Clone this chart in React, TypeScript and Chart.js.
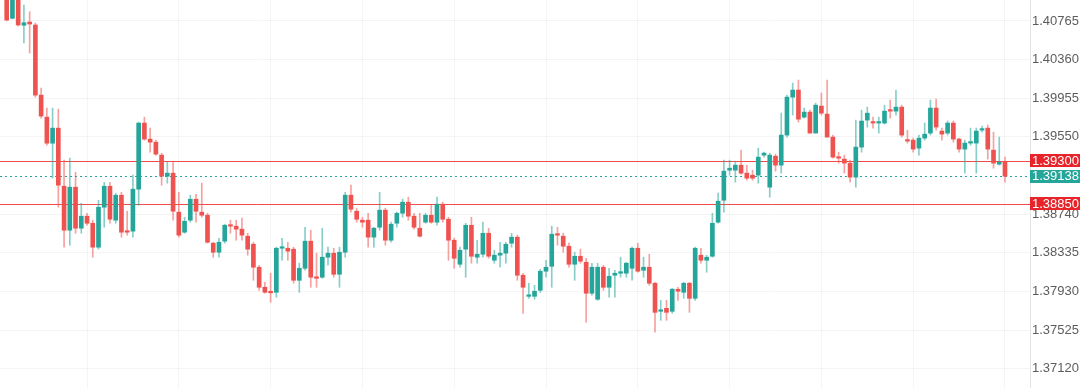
import React, { useEffect, useRef } from "react";
import { Chart, registerables } from "chart.js";

Chart.register(...registerables);

// ---- Data ----
const opens = [
  1.41069, 1.40793, 1.41016, 1.40720, 1.40754, 1.40723, 1.39988, 1.39757, 1.39484, 1.39642,
  1.39033, 1.38572, 1.39023, 1.38593, 1.38719, 1.38645, 1.38394, 1.38813, 1.39033, 1.38677,
  1.38939, 1.38562, 1.38562, 1.39002, 1.39695, 1.39527, 1.39495, 1.39359, 1.39138, 1.39170,
  1.38761, 1.38551, 1.38677, 1.38897, 1.38761, 1.38729, 1.38436, 1.38341, 1.38457, 1.38624,
  1.38614, 1.38583, 1.38509, 1.38425, 1.38184, 1.37974, 1.37921, 1.37921, 1.38383, 1.38383,
  1.38373, 1.38047, 1.38173, 1.38457, 1.38079, 1.38079, 1.38289, 1.38331, 1.38110, 1.38341,
  1.38939, 1.38771, 1.38677, 1.38677, 1.38499, 1.38603, 1.38782, 1.38467, 1.38645, 1.38750,
  1.38866, 1.38719, 1.38593, 1.38656, 1.38729, 1.38656, 1.38845, 1.38687, 1.38467, 1.38215,
  1.38373, 1.38624, 1.38289, 1.38320, 1.38540, 1.38257, 1.38310, 1.38331, 1.38436, 1.38499,
  1.38100, 1.37879, 1.37879, 1.37942, 1.38142, 1.38194, 1.38530, 1.38509, 1.38404, 1.38215,
  1.38299, 1.38236, 1.37911, 1.37848, 1.38184, 1.37974, 1.38100, 1.38121, 1.38121, 1.38173,
  1.38383, 1.38152, 1.38184, 1.38016, 1.37722, 1.37753, 1.37722, 1.37953, 1.37921, 1.38016,
  1.37858, 1.38310, 1.38257, 1.38299, 1.38656, 1.38886, 1.39201, 1.39201, 1.39254, 1.39170,
  1.39149, 1.39149, 1.39359, 1.39023, 1.39348, 1.39254, 1.39569, 1.39967, 1.40041, 1.39757,
  1.39810, 1.39590, 1.39873, 1.39789, 1.39548, 1.39338, 1.39317, 1.39275, 1.39128, 1.39443,
  1.39726, 1.39705, 1.39695, 1.39695, 1.39831, 1.39820, 1.39862, 1.39516, 1.39516, 1.39432,
  1.39537, 1.39590, 1.39852, 1.39611, 1.39590, 1.39695, 1.39527, 1.39422, 1.39485, 1.39485,
  1.39621, 1.39642, 1.39411, 1.39264, 1.39285,
];
const highs = [
  1.41090, 1.41090, 1.41090, 1.40933, 1.40862, 1.40744, 1.40062, 1.39852, 1.39852, 1.39841,
  1.39306, 1.39327, 1.39180, 1.38855, 1.38750, 1.38677, 1.38886, 1.39075, 1.39075, 1.38960,
  1.38970, 1.38771, 1.39149, 1.39705, 1.39757, 1.39642, 1.39516, 1.39380, 1.39285, 1.39285,
  1.38970, 1.38708, 1.38939, 1.38949, 1.39065, 1.38750, 1.38446, 1.38488, 1.38635, 1.38677,
  1.38677, 1.38698, 1.38540, 1.38446, 1.38205, 1.38026, 1.38121, 1.38394, 1.38488, 1.38446,
  1.38394, 1.38226, 1.38603, 1.38572, 1.38331, 1.38593, 1.38394, 1.38383, 1.38394, 1.38970,
  1.39044, 1.38803, 1.38708, 1.38750, 1.38603, 1.38970, 1.38803, 1.38656, 1.38761, 1.38897,
  1.38918, 1.38750, 1.38750, 1.38750, 1.38834, 1.38918, 1.38866, 1.38708, 1.38488, 1.38394,
  1.38645, 1.38708, 1.38467, 1.38656, 1.38593, 1.38362, 1.38446, 1.38446, 1.38540, 1.38520,
  1.38121, 1.38016, 1.37995, 1.38163, 1.38257, 1.38614, 1.38603, 1.38540, 1.38436, 1.38341,
  1.38373, 1.38278, 1.38226, 1.38226, 1.38205, 1.38173, 1.38152, 1.38289, 1.38236, 1.38394,
  1.38436, 1.38289, 1.38320, 1.38026, 1.37837, 1.37837, 1.37963, 1.37974, 1.38026, 1.38026,
  1.38394, 1.38383, 1.38310, 1.38750, 1.38960, 1.39306, 1.39306, 1.39296, 1.39411, 1.39254,
  1.39201, 1.39432, 1.39390, 1.39380, 1.39369, 1.39800, 1.39988, 1.40114, 1.40146, 1.39852,
  1.39831, 1.39904, 1.40009, 1.40146, 1.39569, 1.39390, 1.39359, 1.39306, 1.39726, 1.39831,
  1.39862, 1.39757, 1.39757, 1.39883, 1.39936, 1.40041, 1.39883, 1.39621, 1.39537, 1.39569,
  1.39695, 1.39936, 1.39946, 1.39642, 1.39716, 1.39716, 1.39537, 1.39516, 1.39642, 1.39642,
  1.39663, 1.39674, 1.39600, 1.39548, 1.39338,
];
const lows = [
  1.40765, 1.40786, 1.40712, 1.40534, 1.40429, 1.39967, 1.39747, 1.39463, 1.39117, 1.38813,
  1.38394, 1.38415, 1.38540, 1.38540, 1.38624, 1.38289, 1.38373, 1.38603, 1.38645, 1.38645,
  1.38499, 1.38520, 1.38499, 1.38834, 1.39516, 1.39390, 1.39359, 1.39044, 1.39065, 1.38677,
  1.38499, 1.38540, 1.38656, 1.38656, 1.38708, 1.38436, 1.38289, 1.38289, 1.38436, 1.38540,
  1.38467, 1.38467, 1.38310, 1.38047, 1.37942, 1.37911, 1.37816, 1.37869, 1.38257, 1.38257,
  1.38016, 1.37921, 1.38152, 1.37974, 1.37974, 1.38068, 1.38205, 1.38079, 1.37974, 1.38289,
  1.38761, 1.38656, 1.38603, 1.38394, 1.38394, 1.38572, 1.38415, 1.38446, 1.38603, 1.38708,
  1.38677, 1.38582, 1.38499, 1.38645, 1.38645, 1.38624, 1.38656, 1.38257, 1.38173, 1.38184,
  1.38079, 1.38226, 1.38226, 1.38289, 1.38278, 1.38226, 1.38184, 1.38226, 1.38394, 1.38047,
  1.37701, 1.37858, 1.37848, 1.37921, 1.38079, 1.37974, 1.38415, 1.38341, 1.38184, 1.38047,
  1.38226, 1.37607, 1.37890, 1.37837, 1.37942, 1.37869, 1.37869, 1.38079, 1.38079, 1.38047,
  1.38131, 1.38079, 1.37995, 1.37502, 1.37627, 1.37627, 1.37701, 1.37837, 1.37858, 1.37711,
  1.37837, 1.38226, 1.38131, 1.38289, 1.38645, 1.38761, 1.39149, 1.39075, 1.39159, 1.39096,
  1.39096, 1.39065, 1.39338, 1.38918, 1.39191, 1.39170, 1.39548, 1.39779, 1.39705, 1.39747,
  1.39590, 1.39590, 1.39779, 1.39548, 1.39327, 1.39275, 1.39170, 1.39075, 1.39023, 1.39390,
  1.39653, 1.39642, 1.39590, 1.39684, 1.39747, 1.39779, 1.39548, 1.39485, 1.39390, 1.39359,
  1.39516, 1.39569, 1.39621, 1.39516, 1.39569, 1.39495, 1.39390, 1.39170, 1.39463, 1.39170,
  1.39600, 1.39317, 1.39222, 1.39254, 1.39075,
];
const closes = [
  1.40775, 1.41037, 1.40723, 1.40747, 1.40733, 1.39988, 1.39768, 1.39484, 1.39642, 1.39044,
  1.38572, 1.39023, 1.38593, 1.38719, 1.38645, 1.38394, 1.38813, 1.39033, 1.38687, 1.38939,
  1.38551, 1.38551, 1.39002, 1.39695, 1.39527, 1.39495, 1.39369, 1.39138, 1.39170, 1.38771,
  1.38520, 1.38666, 1.38897, 1.38771, 1.38729, 1.38446, 1.38341, 1.38446, 1.38624, 1.38614,
  1.38583, 1.38520, 1.38373, 1.38184, 1.37974, 1.37921, 1.37916, 1.38383, 1.38394, 1.38352,
  1.38047, 1.38173, 1.38457, 1.38079, 1.38068, 1.38289, 1.38331, 1.38110, 1.38341, 1.38939,
  1.38792, 1.38687, 1.38656, 1.38499, 1.38593, 1.38782, 1.38467, 1.38635, 1.38750, 1.38866,
  1.38719, 1.38603, 1.38509, 1.38729, 1.38656, 1.38845, 1.38687, 1.38467, 1.38278, 1.38362,
  1.38624, 1.38299, 1.38320, 1.38540, 1.38299, 1.38310, 1.38331, 1.38425, 1.38499, 1.38100,
  1.37974, 1.37885, 1.37932, 1.38142, 1.38184, 1.38530, 1.38520, 1.38404, 1.38215, 1.38299,
  1.38247, 1.37911, 1.38184, 1.38184, 1.37974, 1.38089, 1.38121, 1.38126, 1.38226, 1.38383,
  1.38142, 1.38184, 1.38016, 1.37711, 1.37732, 1.37711, 1.37953, 1.37932, 1.38016, 1.37858,
  1.38383, 1.38257, 1.38289, 1.38645, 1.38876, 1.39191, 1.39222, 1.39254, 1.39170, 1.39117,
  1.39117, 1.39338, 1.39380, 1.39359, 1.39254, 1.39569, 1.39967, 1.40041, 1.39736, 1.39810,
  1.39590, 1.39883, 1.39799, 1.39548, 1.39338, 1.39327, 1.39275, 1.39128, 1.39443, 1.39716,
  1.39799, 1.39695, 1.39705, 1.39820, 1.39820, 1.39862, 1.39569, 1.39506, 1.39422, 1.39537,
  1.39579, 1.39852, 1.39653, 1.39579, 1.39695, 1.39527, 1.39422, 1.39485, 1.39495, 1.39611,
  1.39632, 1.39422, 1.39275, 1.39285, 1.39138,
];

const yTicks = [1.3712, 1.37525, 1.3793, 1.38335, 1.3874, 1.3955, 1.39955, 1.4036, 1.40765];
const levelLines = [1.393, 1.3885];
const lastPrice = 1.39138;

const UP = "#26a69a";
const DOWN = "#ef5350";
const UP_WICK = "rgba(38,166,154,0.55)";
const DOWN_WICK = "rgba(239,83,80,0.55)";
const LEVEL_RED = "#f04b4b";
const LABEL_RED = "#e8242b";
const FONT = "'Liberation Sans', Arial, sans-serif";

const levelPlugin = {
  id: "levels",
  beforeDatasetsDraw(chart: any) {
    const { ctx, chartArea } = chart;
    const y = chart.scales.y;
    ctx.save();
    levelLines.forEach((v) => {
      const py = Math.round(y.getPixelForValue(v)) + 0.5;
      ctx.strokeStyle = LEVEL_RED;
      ctx.lineWidth = 1;
      ctx.beginPath();
      ctx.moveTo(chartArea.left, py);
      ctx.lineTo(chartArea.right, py);
      ctx.stroke();
    });
    const pl = Math.round(y.getPixelForValue(lastPrice)) + 0.5;
    ctx.strokeStyle = UP;
    ctx.lineWidth = 1;
    ctx.setLineDash([2, 3]);
    ctx.beginPath();
    ctx.moveTo(chartArea.left, pl);
    ctx.lineTo(chartArea.right, pl);
    ctx.stroke();
    ctx.restore();
  },
  afterDraw(chart: any) {
    const { ctx, chartArea } = chart;
    const y = chart.scales.y;
    const boxes = [
      { v: levelLines[0], c: LABEL_RED },
      { v: lastPrice, c: UP },
      { v: levelLines[1], c: LABEL_RED },
    ];
    ctx.save();
    ctx.font = "13px " + FONT;
    ctx.textBaseline = "middle";
    ctx.textAlign = "left";
    boxes.forEach((b) => {
      const py = y.getPixelForValue(b.v);
      ctx.fillStyle = b.c;
      ctx.fillRect(chartArea.right, Math.round(py - 6.5), 50, 13);
      ctx.fillStyle = "#ffffff";
      ctx.fillText(b.v.toFixed(5), chartArea.right + 2, py + 0.5);
    });
    ctx.restore();
  },
};

export default function App() {
  const ref = useRef<HTMLCanvasElement | null>(null);

  useEffect(() => {
    document.body.style.margin = "0";
    const idx = opens.map((_, i) => i);
    const colorOf = (i: number, up: string, down: string) => (closes[i] >= opens[i] ? up : down);
    const chart = new Chart(ref.current as HTMLCanvasElement, {
      type: "bar",
      data: {
        datasets: [
          {
            label: "wick",
            data: idx.map((i) => ({ x: i, y: [lows[i], highs[i]] })) as any,
            backgroundColor: idx.map((i) => colorOf(i, UP_WICK, DOWN_WICK)),
            barThickness: 1,
            grouped: false,
            borderWidth: 0,
          } as any,
          {
            label: "body",
            data: idx.map((i) => ({ x: i, y: [opens[i], closes[i]] })) as any,
            backgroundColor: idx.map((i) => colorOf(i, UP, DOWN)),
            barThickness: 4,
            grouped: false,
            borderWidth: 0,
            minBarLength: 1.5,
          } as any,
        ],
      },
      options: {
        animation: false,
        responsive: false,
        maintainAspectRatio: false,
        layout: { padding: 0 },
        plugins: { legend: { display: false }, tooltip: { enabled: false } },
        scales: {
          x: {
            type: "linear",
            offset: false,
            min: -1.168,
            max: 178.36,
            ticks: { display: false, padding: 0 },
            border: { display: false },
            grid: { color: "rgba(0,0,0,0.04)", drawTicks: false, offset: false },
            afterBuildTicks: (axis: any) => {
              const t = [];
              for (let v = 14; v < 178; v += 16) t.push({ value: v });
              axis.ticks = t;
            },
            afterFit: (s: any) => {
              s.height = 0;
              s.paddingLeft = 0;
              s.paddingRight = 0;
            },
          },
          y: {
            type: "linear",
            position: "right",
            min: 1.36918,
            max: 1.40985,
            border: { display: true, color: "#e3e3e3" },
            grid: { color: "rgba(0,0,0,0.045)", drawTicks: false },
            afterBuildTicks: (axis: any) => {
              axis.ticks = yTicks.map((v) => ({ value: v }));
            },
            ticks: {
              padding: 2,
              color: "#5d5d5d",
              font: { size: 13, family: FONT },
              callback: (v: any) => Number(v).toFixed(5),
            },
            afterFit: (s: any) => {
              s.width = 50;
              s.paddingTop = 0;
              s.paddingBottom = 0;
            },
          },
        },
      } as any,
      plugins: [levelPlugin],
    });
    return () => chart.destroy();
  }, []);

  return (
    <div style={{ position: "absolute", left: 0, top: 0, width: 1080, height: 388, background: "#fff" }}>
      <canvas ref={ref} width={1080} height={388} style={{ display: "block", width: 1080, height: 388 }} />
    </div>
  );
}
